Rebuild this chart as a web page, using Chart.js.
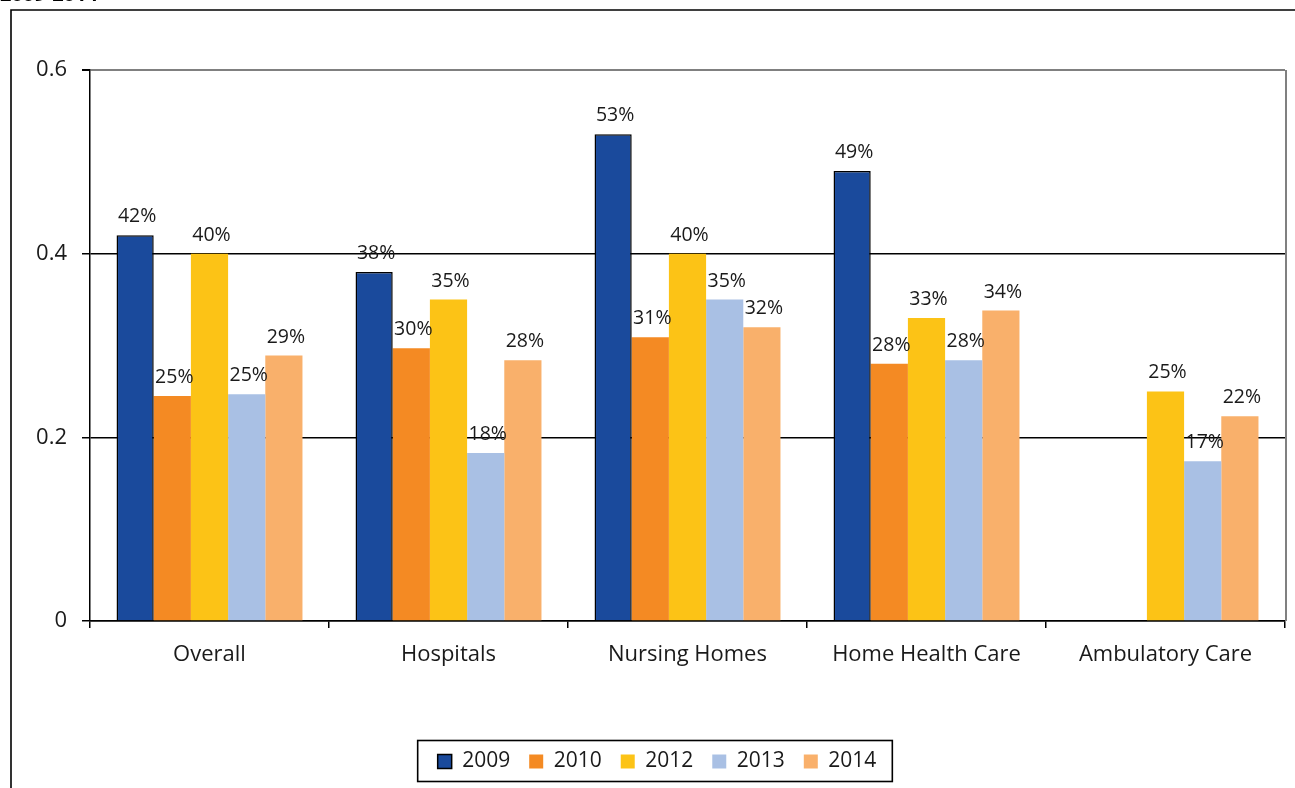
<!DOCTYPE html>
<html><head><meta charset="utf-8">
<script src="https://cdn.jsdelivr.net/npm/chart.js@4.4.1/dist/chart.umd.min.js"></script>
<style>
html,body{margin:0;padding:0;background:#fff;overflow:hidden;}
#wrap{position:relative;width:1295px;height:788px;}
canvas{position:absolute;left:0;top:0;}
#title{position:absolute;left:0;top:-16px;font:bold 20px 'Open Sans';line-height:20px;color:#000;white-space:nowrap;}
</style></head><body>
<div id="wrap"><canvas id="c" width="1295" height="788"></canvas><div id="title">2009-2014</div></div>
<script>
const categories = ['Overall', 'Hospitals', 'Nursing Homes', 'Home Health Care', 'Ambulatory Care'];
const seriesNames = ['2009', '2010', '2012', '2013', '2014'];
const v2009 = [0.420, 0.380, 0.530, 0.490, null];
const v2010 = [0.245, 0.297, 0.309, 0.280, null];
const v2012 = [0.400, 0.350, 0.400, 0.330, 0.250];
const v2013 = [0.247, 0.183, 0.350, 0.284, 0.174];
const v2014 = [0.289, 0.284, 0.320, 0.338, 0.223];
const yTicks = [0, 0.2, 0.4, 0.6];

const colors = ['#1A4A9C', '#F48A23', '#FCC316', '#A9C0E4', '#F9B06B'];
const seriesValues = [v2009, v2010, v2012, v2013, v2014];
const FONT = "'Open Sans'";
const TXT = '#1a1a1a';

const frame = {
  id: 'frame',
  beforeDraw(chart) {
    const c = chart.ctx;
    c.save();
    c.fillStyle = '#fff';
    c.fillRect(0, 0, chart.width, chart.height);
    c.strokeStyle = '#000';
    c.lineWidth = 1.6;
    c.beginPath();
    c.moveTo(11, chart.height);
    c.lineTo(11, 10);
    c.lineTo(chart.width, 10);
    c.stroke();
    c.restore();
  },
  beforeDatasetsDraw(chart) {
    const c = chart.ctx, a = chart.chartArea;
    c.save();
    c.strokeStyle = '#808080';
    c.lineWidth = 2;
    c.beginPath();
    c.moveTo(a.right + 1, a.top);
    c.lineTo(a.right + 1, a.bottom);
    c.stroke();
    c.restore();
  },
  afterDatasetsDraw(chart) {
    const c = chart.ctx;
    c.save();
    c.font = "19.5px " + FONT;
    c.fillStyle = TXT;
    c.textAlign = 'center';
    c.textBaseline = 'alphabetic';
    chart.data.datasets.forEach((ds, i) => {
      const meta = chart.getDatasetMeta(i);
      meta.data.forEach((bar, j) => {
        const v = ds.data[j];
        if (v == null) return;
        c.fillText(Math.round(v * 100) + '%', bar.x + 2, bar.y - 13);
      });
    });
    c.restore();
  },
  afterDraw(chart) {
    const hb = chart.legend && chart.legend.legendHitBoxes;
    if (!hb || !hb.length) return;
    const c = chart.ctx;
    let l = Infinity, r = -Infinity;
    hb.forEach(h => { l = Math.min(l, h.left); r = Math.max(r, h.left + h.width); });
    const cy = hb[0].top + hb[0].height / 2;
    c.save();
    c.strokeStyle = '#000';
    c.lineWidth = 1.6;
    c.strokeRect(l - 20, cy - 21, (r + 16) - (l - 20), 41);
    c.restore();
  }
};

new Chart(document.getElementById('c'), {
  type: 'bar',
  data: {
    labels: categories,
    datasets: seriesNames.map((n, i) => ({
      label: n,
      data: seriesValues[i],
      backgroundColor: colors[i],
      borderColor: i === 0 ? '#000' : colors[i],
      borderWidth: i === 0 ? 1.5 : 0,
      categoryPercentage: 0.778,
      barPercentage: 1.0
    }))
  },
  options: {
    responsive: false,
    animation: false,
    layout: { padding: { top: 70, left: 29, right: 10, bottom: 6 } },
    plugins: {
      tooltip: { enabled: false },
      title: { display: false },
      legend: {
        position: 'bottom',
        labels: {
          font: { family: FONT, size: 21 },
          color: TXT,
          boxWidth: 14,
          boxHeight: 14,
          padding: 19
        }
      }
    },
    scales: {
      x: {
        grid: { offset: true, drawOnChartArea: false, color: '#000', tickLength: 7, lineWidth: 1.5 },
        border: { color: '#000', width: 1.5 },
        ticks: { font: { family: FONT, size: 22 }, color: TXT, padding: 14, maxRotation: 0 },
        afterFit(s) { s.height = 111; }
      },
      y: {
        min: 0, max: 0.6,
        afterBuildTicks(s) { s.ticks = yTicks.map(v => ({ value: v })); },
        grid: {
          color: (ctx) => (ctx.tick && ctx.tick.value === 0.6) ? '#808080' : '#000',
          lineWidth: (ctx) => (ctx.tick && ctx.tick.value === 0.6) ? 2 : 1.5,
          tickColor: '#000',
          tickLength: 8
        },
        border: { color: '#000', width: 1.5 },
        ticks: { font: { family: FONT, size: 22 }, color: TXT, padding: 15 },
        afterFit(s) { s.width = 61; }
      }
    }
  },
  plugins: [frame]
});
</script>
</body></html>
